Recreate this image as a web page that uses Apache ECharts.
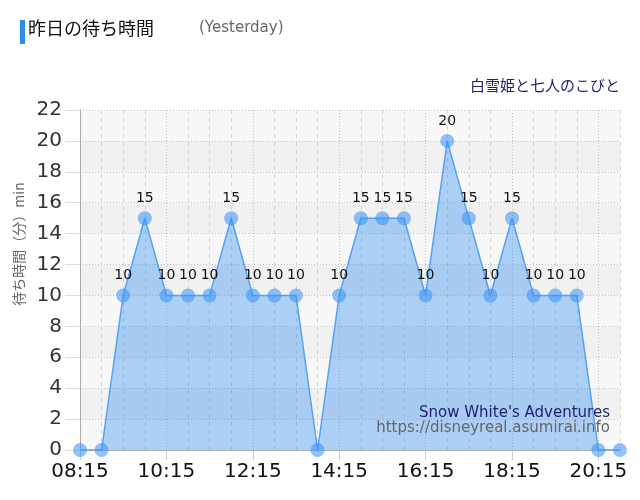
<!DOCTYPE html>
<html><head><meta charset="utf-8">
<script src="https://cdn.jsdelivr.net/npm/echarts@6/dist/echarts.min.js"></script>
<style>html,body{margin:0;padding:0;background:#fff}#c{width:640px;height:500px}</style>
</head><body><div id="c"></div>
<script>
const categories = ['08:15','08:45','09:15','09:45','10:15','10:45','11:15','11:45','12:15','12:45','13:15','13:45','14:15','14:45','15:15','15:45','16:15','16:45','17:15','17:45','18:15','18:45','19:15','19:45','20:15','20:45'];
const waitTimes = [0,0,10,15,10,10,10,15,10,10,10,0,10,15,15,15,10,20,15,10,15,10,10,10,0,0];
const yTicks = [0,2,4,6,8,10,12,14,16,18,20,22];

const chart = echarts.init(document.getElementById('c'));
const isMajor = (i) => i % 4 === 0;
chart.setOption({
  animation: false,
  backgroundColor: '#fff',
  grid: {left: 80, right: 20, top: 110, bottom: 50},
  graphic: [
    {type: 'rect', shape: {x: 20, y: 20, width: 5, height: 24}, style: {fill: '#2b8ef2'}},
    {type: 'text', left: 28, top: 19, style: {text: '昨日の待ち時間', font: '18px "Noto Sans CJK JP"', fill: '#111'}},
    {type: 'text', left: 199, top: 21, style: {text: '(Yesterday)', font: '15px "DejaVu Sans"', fill: '#666'}},
    {type: 'text', right: 20, top: 78, style: {text: '白雪姫と七人のこびと', font: '15px "Noto Sans CJK JP"', fill: '#1f1f6e'}},
    {type: 'text', right: 30, top: 406, z: 100, style: {text: "Snow White's Adventures", font: '15px "DejaVu Sans"', fill: '#1f1f6e', align: 'right'}},
    {type: 'text', right: 30, top: 421, z: 100, style: {text: 'https://disneyreal.asumirai.info', font: '15px "DejaVu Sans"', fill: '#666', align: 'right'}}
  ],
  xAxis: [{
    type: 'category', data: categories, boundaryGap: false,
    axisLine: {lineStyle: {color: '#aaa'}},
    axisTick: {interval: 3, length: 10, lineStyle: {color: '#ccc'}},
    axisLabel: {interval: 3, fontSize: 20, color: '#111', fontFamily: 'DejaVu Sans', margin: 12},
    splitLine: {show: true, interval: (i) => !isMajor(i), lineStyle: {color: '#d6d6d6', type: [4, 4]}}
  }, {
    type: 'category', data: categories, boundaryGap: false, position: 'bottom',
    axisLine: {show: false}, axisTick: {show: false}, axisLabel: {show: false},
    splitLine: {show: true, interval: (i) => isMajor(i), lineStyle: {color: '#c4c4c4', type: [1, 2]}}
  }],
  yAxis: {
    type: 'value', min: 0, max: 22, interval: 2,
    name: '待ち時間（分）min', nameLocation: 'middle', nameGap: 53, nameRotate: 90,
    nameTextStyle: {fontSize: 14, color: '#666', fontFamily: 'Noto Sans CJK JP', padding: [0, 0, 0, 72]},
    axisLine: {show: true, lineStyle: {color: '#aaa'}},
    axisTick: {show: true, length: 15, lineStyle: {color: '#ddd'}},
    axisLabel: {fontSize: 20, color: '#333', fontFamily: 'DejaVu Sans', margin: 18,
      formatter: (v) => yTicks.includes(v) ? String(v) : ''},
    splitLine: {lineStyle: {color: '#c4c4c4', type: [1, 2]}},
    splitArea: {show: true, areaStyle: {color: ['#f8f8f8', '#f1f1f1']}}
  },
  series: [{
    type: 'line', data: waitTimes, showAllSymbol: true,
    symbol: 'circle', symbolSize: 14,
    itemStyle: {color: 'rgba(55,145,245,0.55)'},
    lineStyle: {color: '#55a2f5', width: 1.5},
    areaStyle: {color: 'rgba(35,135,240,0.5)'},
    labelLayout: {hideOverlap: false},
    label: {show: true, position: 'top', distance: 6, fontSize: 14, color: '#111', fontFamily: 'DejaVu Sans',
      formatter: (p) => p.value > 0 ? String(p.value) : ''}
  }]
});
</script></body></html>
